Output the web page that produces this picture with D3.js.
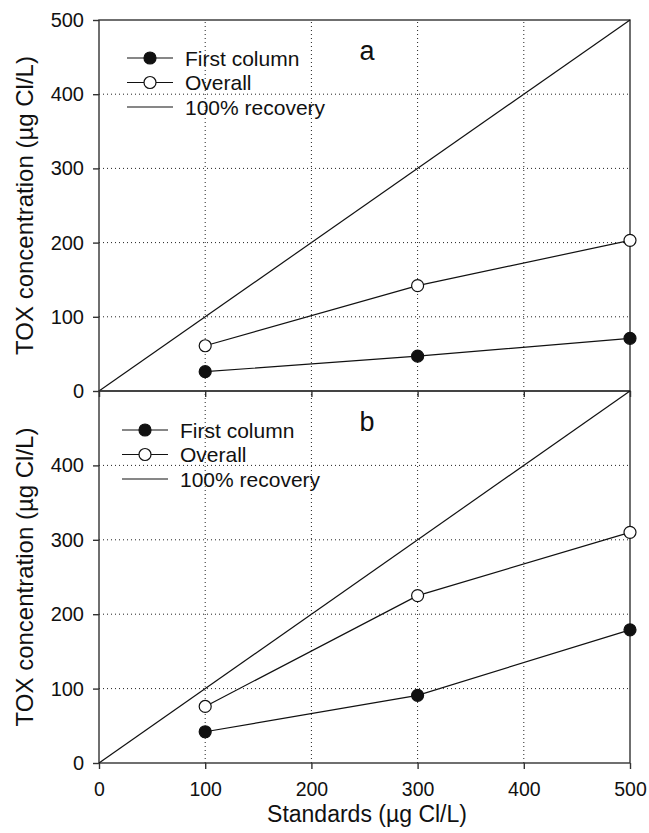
<!DOCTYPE html>
<html>
<head>
<meta charset="utf-8">
<script src="https://cdn.jsdelivr.net/npm/d3@7"></script>
<style>
  body { margin: 0; background: #fff; }
  text { font-family: "Liberation Sans", Arial, sans-serif; fill: #111; }
</style>
</head>
<body>
<script>
// standards (x) and measured TOX for each panel
var standards = [100, 300, 500];
var firstColA = [26, 47, 71];
var overallA = [61, 142, 203];
var firstColB = [42, 91, 179];
var overallB = [76, 225, 310];
var recovery = [0, 500];
var ticks = [0, 100, 200, 300, 400, 500];
var gridTicks = [100, 200, 300, 400];
var legendNames = ["First column", "Overall", "100% recovery"];

var w = 649, h = 833;
var left = 99, right = 630;

var svg = d3.select("body").append("svg")
    .attr("width", w)
    .attr("height", h);

var x = d3.scaleLinear().domain([0, 500]).range([left, right]);

var panels = [
  {top: 20, bottom: 391, first: firstColA, overall: overallA, tag: "a", yTicks: ticks, legY: 58, legX: 127},
  {top: 391, bottom: 763, first: firstColB, overall: overallB, tag: "b", yTicks: ticks.slice(0, 5), legY: 430, legX: 122}
];

panels.forEach(function(p, pi){
    var y = d3.scaleLinear().domain([0, 500]).range([p.bottom, p.top]);
    var g = svg.append("g");

    // dotted grid
    g.selectAll(".gx").data(gridTicks).enter().append("line")
        .attr("x1", function(d){ return x(d); })
        .attr("x2", function(d){ return x(d); })
        .attr("y1", y(0)).attr("y2", y(500))
        .attr("stroke", "#222").attr("stroke-width", 1)
        .attr("stroke-dasharray", "1,3");
    g.selectAll(".gy").data(gridTicks).enter().append("line")
        .attr("y1", function(d){ return y(d); })
        .attr("y2", function(d){ return y(d); })
        .attr("x1", x(0)).attr("x2", x(500))
        .attr("stroke", "#222").attr("stroke-width", 1)
        .attr("stroke-dasharray", "1,3");

    // frame
    g.append("rect")
        .attr("x", x(0)).attr("y", y(500))
        .attr("width", x(500) - x(0)).attr("height", y(0) - y(500))
        .attr("fill", "none").attr("stroke", "#333").attr("stroke-width", 1.4);

    // axes
    var yAxis = d3.axisLeft(y).tickValues(p.yTicks).tickSize(6).tickPadding(9);
    var ya = g.append("g").attr("transform", "translate(" + x(0) + ",0)").call(yAxis);
    ya.selectAll("text").style("font-size", "20px").attr("font-family", "Liberation Sans, Arial, sans-serif").attr("fill", "#111");

    var xAxis = d3.axisBottom(x).tickValues(ticks).tickSize(6).tickPadding(13);
    var xa = g.append("g").attr("transform", "translate(0," + y(0) + ")").call(xAxis);
    if (pi == 0) {
        xa.selectAll("text").remove();
    } else {
        xa.selectAll("text").style("font-size", "19.5px").attr("font-family", "Liberation Sans, Arial, sans-serif").attr("fill", "#111");
    }
    g.selectAll(".domain").remove();
    g.selectAll(".tick line").attr("stroke", "#333").attr("stroke-width", 1.4);

    // 100% recovery line
    g.append("line")
        .attr("x1", x(recovery[0])).attr("y1", y(recovery[0]))
        .attr("x2", x(recovery[1])).attr("y2", y(recovery[1]))
        .attr("stroke", "#111").attr("stroke-width", 1.2);

    var line = d3.line()
        .x(function(d, i){ return x(standards[i]); })
        .y(function(d){ return y(d); });

    [p.overall, p.first].forEach(function(vals, k){
        g.append("path").datum(vals)
            .attr("d", line)
            .attr("fill", "none").attr("stroke", "#111").attr("stroke-width", 1.2);
        g.selectAll(".pt" + k).data(vals).enter().append("circle")
            .attr("cx", function(d, i){ return x(standards[i]); })
            .attr("cy", function(d){ return y(d); })
            .attr("r", 6)
            .attr("fill", k == 0 ? "#fff" : "#111")
            .attr("stroke", "#111").attr("stroke-width", 1.2);
    });

    // legend
    legendNames.forEach(function(name, i){
        var ly = p.legY + i * 24.5;
        g.append("line")
            .attr("x1", p.legX).attr("x2", p.legX + 46)
            .attr("y1", ly).attr("y2", ly)
            .attr("stroke", "#111").attr("stroke-width", 1.2);
        if (i < 2) {
            g.append("circle")
                .attr("cx", p.legX + 23).attr("cy", ly).attr("r", 6)
                .attr("fill", i == 0 ? "#111" : "#fff")
                .attr("stroke", "#111").attr("stroke-width", 1.2);
        }
        g.append("text")
            .attr("x", p.legX + 58).attr("y", ly)
            .attr("dy", "0.36em")
            .style("font-size", "21px")
            .text(name);
    });

    g.append("text")
        .attr("x", 367).attr("y", p.top + 40)
        .attr("text-anchor", "middle")
        .style("font-size", "27px")
        .text(p.tag);

    // y label
    g.append("text")
        .attr("transform", "translate(33," + ((p.top + p.bottom) / 2) + ") rotate(-90)")
        .attr("text-anchor", "middle")
        .style("font-size", "24px")
        .text("TOX concentration (µg Cl/L)");
});

svg.append("text")
    .attr("x", 367).attr("y", 822)
    .attr("text-anchor", "middle")
    .style("font-size", "23px")
    .text("Standards (µg Cl/L)");
</script>
</body>
</html>
